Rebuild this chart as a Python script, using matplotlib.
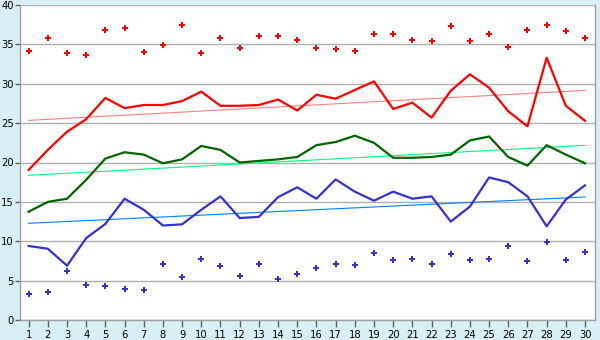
import numpy as np
import matplotlib
matplotlib.use("Agg")
import matplotlib.pyplot as plt

days = list(range(1, 31))
red_line = [19.05, 21.6, 23.9, 25.5, 28.2, 26.9, 27.3, 27.3, 27.8, 29.0,
            27.2, 27.2, 27.3, 28.0, 26.6, 28.6, 28.1, 29.2, 30.3, 26.8,
            27.6, 25.7, 29.1, 31.2, 29.5, 26.5, 24.6, 33.3, 27.2, 25.3]
green_line = [13.75, 15.0, 15.4, 17.8, 20.5, 21.3, 21.0, 19.9, 20.4, 22.1,
              21.6, 20.0, 20.2, 20.4, 20.7, 22.2, 22.6, 23.4, 22.5, 20.6,
              20.6, 20.7, 21.0, 22.8, 23.3, 20.7, 19.6, 22.2, 21.0, 19.9]
blue_line = [9.4, 9.05, 6.9, 10.4, 12.2, 15.4, 14.0, 12.0, 12.15, 14.0,
             15.7, 12.95, 13.1, 15.6, 16.85, 15.4, 17.85, 16.3, 15.15, 16.3,
             15.4, 15.7, 12.5, 14.4, 18.1, 17.5, 15.7, 11.9, 15.3, 17.1]
red_points = [34.1, 35.8, 33.9, 33.7, 36.8, 37.1, 34.0, 34.9, 37.5, 33.9,
              35.8, 34.6, 36.1, 36.1, 35.5, 34.6, 34.4, 34.1, 36.3, 36.3,
              35.5, 35.4, 37.3, 35.4, 36.3, 34.7, 36.8, 37.4, 36.7, 35.8]
blue_points = [3.25, 3.6, 6.2, 4.5, 4.3, 4.0, 3.8, 7.1, 5.4, 7.8,
               6.8, 5.55, 7.1, 5.2, 5.9, 6.55, 7.1, 6.95, 8.45, 7.6,
               7.7, 7.1, 8.35, 7.6, 7.8, 9.35, 7.45, 9.85, 7.6, 8.6]
trend_x = [1, 30]
red_trend = [25.35, 29.16]
green_trend = [18.37, 22.18]
blue_trend = [12.28, 15.62]
yticks = [0, 5, 10, 15, 20, 25, 30, 35, 40]

bg = "#d9eff6"
fig = plt.figure(figsize=(6, 3.4), dpi=100, facecolor=bg)
ax = fig.add_axes([20/600, 20/340, 575/600, 315/340])
ax.set_facecolor("white")

x = np.array(days, dtype=float)

ax.plot(trend_x, red_trend, color="#ff8080", lw=0.8, zorder=3)
ax.plot(trend_x, green_trend, color="#00ff80", lw=0.8, zorder=3)
ax.plot(trend_x, blue_trend, color="#0080ff", lw=0.8, zorder=3)

ax.plot(x, red_line, color="#ff0000", lw=1.6, zorder=4)
ax.plot(x, green_line, color="#006400", lw=1.6, zorder=4)
ax.plot(x, blue_line, color="#3333cc", lw=1.6, zorder=4)

ax.plot(x, red_points, ls="none", marker="P", ms=5, color="#ff0000", mew=0, zorder=5)
ax.plot(x, blue_points, ls="none", marker="P", ms=5, color="#3333cc", mew=0, zorder=5)

ax.set_xlim(0.55, 30.52)
ax.set_ylim(0, 40)
ax.set_xticks(days)
ax.set_xticklabels([str(d) for d in days])
ax.set_yticks(yticks)
ax.set_yticklabels([str(t) for t in yticks])
ax.yaxis.grid(True, color="#b0b0b0", lw=1.0)
ax.set_axisbelow(True)
ax.spines["top"].set_visible(False)
for s in ["left", "bottom", "right"]:
    ax.spines[s].set_color("#a0a0a0")
    ax.spines[s].set_linewidth(1.0)
ax.tick_params(axis="both", colors="#606060", labelcolor="black", labelsize=7.2, width=1)
ax.tick_params(axis="y", length=3.5, pad=1)
ax.tick_params(axis="x", length=5, pad=2)

fig.savefig("out.png", dpi=100, facecolor=bg)
